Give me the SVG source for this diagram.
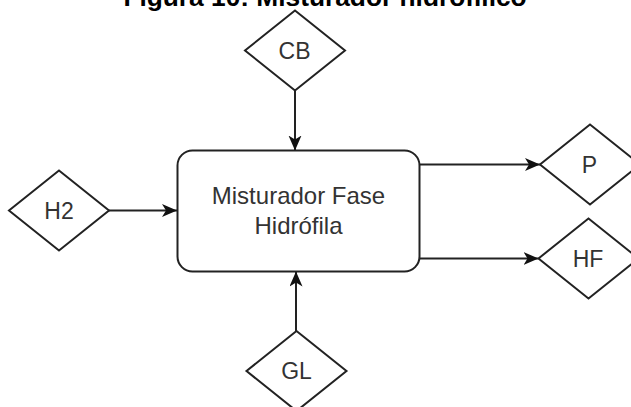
<svg xmlns="http://www.w3.org/2000/svg" width="631" height="407" viewBox="0 0 631 407">
  <style>
    .title { font-family: "Liberation Sans", Arial, sans-serif; font-weight: bold; font-size: 26.3px; fill: #000; text-anchor: middle; }
    .shape { fill: #fff; stroke: #222; stroke-width: 2; }
    .label { font-family: "Liberation Sans", Arial, sans-serif; font-size: 23px; fill: #333; text-anchor: middle; }
    .box-label { font-family: "Liberation Sans", Arial, sans-serif; font-size: 24px; fill: #333; text-anchor: middle; }
    .edge { fill: none; stroke: #222; stroke-width: 2; marker-end: url(#arrow); }
  </style>
  <defs>
    <marker id="arrow" markerUnits="userSpaceOnUse" markerWidth="16" markerHeight="14" refX="15" refY="6.5" orient="auto">
      <path d="M0,0 L15,6.5 L0,13 L4,6.5 z" fill="#111"/>
    </marker>
  </defs>

  <rect width="631" height="407" fill="#fff"/>

  <text class="title" x="325" y="5.5">Figura 10: Misturador hidrófilico</text>

  <g id="connectors">
    <path class="edge" d="M295,91 L295,150.5"/>
    <path class="edge" d="M109,210.5 L177,210.5"/>
    <path class="edge" d="M296,331 L296,271.5"/>
    <path class="edge" d="M419,164.5 L540,164.5"/>
    <path class="edge" d="M419,258.5 L538.5,258.5"/>
  </g>

  <g id="misturador">
    <rect class="shape" x="177.5" y="150.5" width="242" height="121" rx="15" ry="15"/>
    <text class="box-label" x="298.5" y="204">Misturador Fase</text>
    <text class="box-label" x="298.5" y="234">Hidrófila</text>
  </g>

  <g id="cb">
    <path class="shape" d="M295,10.5 L345,50.5 L295,90.5 L245,50.5 z"/>
    <text class="label" x="294.5" y="58.5">CB</text>
  </g>

  <g id="h2">
    <path class="shape" d="M59,170.5 L109,210.5 L59,250.5 L9,210.5 z"/>
    <text class="label" x="59" y="218.5">H2</text>
  </g>

  <g id="gl">
    <path class="shape" d="M296.5,331 L346.5,371 L296.5,411 L246.5,371 z"/>
    <text class="label" x="296.5" y="379">GL</text>
  </g>

  <g id="p">
    <path class="shape" d="M590,124.5 L640,164.5 L590,204.5 L540,164.5 z"/>
    <text class="label" x="589.5" y="172.5">P</text>
  </g>

  <g id="hf">
    <path class="shape" d="M588.5,218.5 L638.5,258.5 L588.5,298.5 L538.5,258.5 z"/>
    <text class="label" x="588" y="266.5">HF</text>
  </g>
</svg>
